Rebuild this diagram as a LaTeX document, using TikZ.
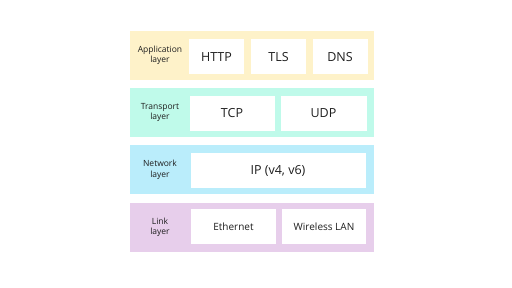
\documentclass[tikz,border=0pt]{standalone}
\usepackage{fontspec}
\setmainfont{Open Sans}
\usepackage{xcolor}
\definecolor{appfill}{RGB}{254,242,201}
\definecolor{transfill}{RGB}{191,250,234}
\definecolor{netfill}{RGB}{186,237,251}
\definecolor{linkfill}{RGB}{231,206,235}
\definecolor{ink}{RGB}{30,30,30}
\usepackage{tikz}
\usetikzlibrary{positioning}

\begin{document}
\begin{tikzpicture}[x=1pt,y=-1pt,
  band/.style={rectangle,inner sep=0pt,minimum width=244pt,minimum height=49pt},
  lbl/.style={font=\fontsize{8.5}{10.5}\selectfont,text=ink,align=center},
  proto/.style={rectangle,fill=white,inner sep=0pt,minimum height=35pt,
                font=\fontsize{12.5}{14}\selectfont,text=ink},
  small/.style={proto,font=\fontsize{10}{12}\selectfont},
]
  \useasboundingbox[fill=white] (0,0) rectangle (512,288);

  \node[band,fill=appfill](app)     at (252,55.5)  {};
  \node[band,fill=transfill](trans) at (252,112.5) {};
  \node[band,fill=netfill](net)     at (252,170)   {};
  \node[band,fill=linkfill](link)   at (252,227.5) {};

  \node[lbl] at (160,55.5)  {Application\\layer};
  \node[lbl] at (160,112.5) {Transport\\layer};
  \node[lbl] at (160,170)   {Network\\layer};
  \node[lbl] at (160,227.5) {Link\\layer};

  \node[proto,minimum width=55pt](http) at (216.5,57) {HTTP};
  \node[proto,minimum width=55pt](tls)  at (278.5,57) {TLS};
  \node[proto,minimum width=55pt](dns)  at (340,57)   {DNS};

  \node[proto,minimum width=85pt](tcp) at (232,113.5) {TCP};
  \node[proto,minimum width=86pt](udp) at (323.5,113.5) {UDP};

  \node[proto,minimum width=175pt](ip) at (278,170.5) {IP (v4, v6)};

  \node[small,minimum width=85pt](eth)  at (233.5,227) {Ethernet};
  \node[small,minimum width=84pt](wlan) at (324,227)   {Wireless LAN};

\end{tikzpicture}
\end{document}
